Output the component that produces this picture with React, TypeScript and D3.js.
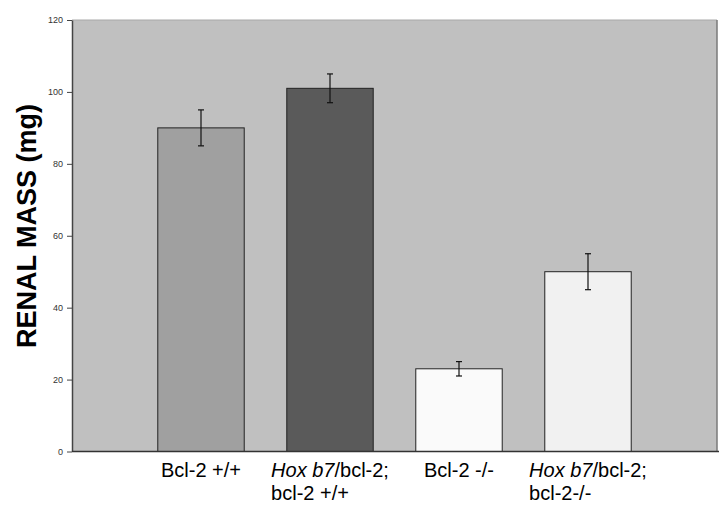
import React, { useEffect, useRef } from "react";
import * as d3 from "d3";

const categories = ["Bcl-2 +/+", "Hox b7/bcl-2; bcl-2 +/+", "Bcl-2 -/-", "Hox b7/bcl-2; bcl-2-/-"];
const massValues = [90, 101, 23, 50];
const errValues = [5, 4, 2, 5];
const barColors = ["#a0a0a0", "#5a5a5a", "#fafafa", "#f1f1f1"];
const yTicks = [0, 20, 40, 60, 80, 100, 120];
// label lines, each line a list of [text, italic]
const labelLines: [string, boolean][][][] = [
  [[["Bcl-2 +/+", false]]],
  [[["Hox b7", true], ["/bcl-2;", false]], [["bcl-2 +/+", false]]],
  [[["Bcl-2 -/-", false]]],
  [[["Hox b7", true], ["/bcl-2;", false]], [["bcl-2-/-", false]]],
];

const W = 727, H = 510;
const left = 72, right = 717, top = 20, bottom = 451.5;

export default function App() {
  const ref = useRef<SVGSVGElement>(null);

  useEffect(() => {
    document.body.style.margin = "0";
    const svg = d3.select(ref.current);
    svg.selectAll("*").remove();

    const slot = (right - left) / 5;
    const x = d3.scaleBand()
      .domain(categories)
      .range([left + slot / 2, right - slot / 2])
      .paddingInner(0.33)
      .paddingOuter(0.165);
    const y = d3.scaleLinear().domain([0, 120]).range([bottom, top]);

    // plot area
    svg.append("rect")
      .attr("x", left).attr("y", top)
      .attr("width", right - left).attr("height", bottom - top)
      .attr("fill", "#c0c0c0");
    svg.append("line")
      .attr("x1", left).attr("x2", right)
      .attr("y1", top).attr("y2", top)
      .attr("stroke", "#a8a8a8");
    svg.append("line")
      .attr("x1", right).attr("x2", right)
      .attr("y1", top).attr("y2", bottom)
      .attr("stroke", "#7a7a7a").attr("stroke-width", 1.5);

    // bars
    svg.selectAll(".bar")
      .data(massValues)
      .enter()
      .append("rect")
      .attr("class", "bar")
      .attr("x", (d, i) => x(categories[i])!)
      .attr("y", d => y(d))
      .attr("width", x.bandwidth())
      .attr("height", d => y(0) - y(d))
      .attr("fill", (d, i) => barColors[i])
      .attr("stroke", "#222")
      .attr("stroke-width", 1);

    // error bars
    const eb = svg.selectAll(".err")
      .data(massValues)
      .enter()
      .append("g")
      .attr("class", "err")
      .attr("transform", (d, i) => "translate(" + (x(categories[i])! + x.bandwidth() / 2) + ",0)");
    eb.append("line")
      .attr("y1", (d, i) => y(d + errValues[i]))
      .attr("y2", (d, i) => y(d - errValues[i]))
      .attr("stroke", "#111").attr("stroke-width", 1.2);
    eb.append("line")
      .attr("x1", -3).attr("x2", 3)
      .attr("y1", (d, i) => y(d + errValues[i]))
      .attr("y2", (d, i) => y(d + errValues[i]))
      .attr("stroke", "#111").attr("stroke-width", 1.2);
    eb.append("line")
      .attr("x1", -3).attr("x2", 3)
      .attr("y1", (d, i) => y(d - errValues[i]))
      .attr("y2", (d, i) => y(d - errValues[i]))
      .attr("stroke", "#111").attr("stroke-width", 1.2);

    // y axis
    const yAxis = svg.append("g")
      .attr("transform", "translate(" + left + ",0)")
      .call(d3.axisLeft(y).tickValues(yTicks).tickSize(5).tickSizeOuter(0).tickPadding(4));
    yAxis.select(".domain").attr("stroke", "#444").attr("stroke-width", 1.5);
    yAxis.selectAll(".tick line").attr("stroke", "#444");
    yAxis.selectAll(".tick text")
      .attr("fill", "#333")
      .style("font-family", "'Liberation Sans', Arial, sans-serif")
      .style("font-size", "9px");

    // x axis line
    svg.append("line")
      .attr("x1", left).attr("x2", right + 2)
      .attr("y1", bottom).attr("y2", bottom)
      .attr("stroke", "#333").attr("stroke-width", 1.5);

    // category labels, lines left aligned, block centered
    labelLines.forEach((lines, i) => {
      const g = svg.append("g");
      const texts = lines.map((parts, j) => {
        const t = g.append("text")
          .attr("x", 0)
          .attr("y", 477 + j * 22.5)
          .style("font-family", "'Liberation Sans', Arial, sans-serif")
          .style("font-size", "20px")
          .attr("fill", "#000");
        parts.forEach(p => {
          t.append("tspan").text(p[0]).style("font-style", p[1] ? "italic" : "normal");
        });
        return t;
      });
      const maxW = d3.max(texts, t => (t.node() as SVGTextElement).getComputedTextLength()) || 0;
      const cx = x(categories[i])! + x.bandwidth() / 2;
      g.attr("transform", "translate(" + (cx - maxW / 2) + ",0)");
    });

    // y title
    svg.append("text")
      .attr("transform", "translate(36,226) rotate(-90)")
      .attr("text-anchor", "middle")
      .style("font-family", "'Liberation Sans', Arial, sans-serif")
      .style("font-size", "27px")
      .style("font-weight", "bold")
      .text("RENAL MASS (mg)");
  }, []);

  return <svg ref={ref} width={W} height={H} style={{ display: "block", background: "#fff" }} />;
}
